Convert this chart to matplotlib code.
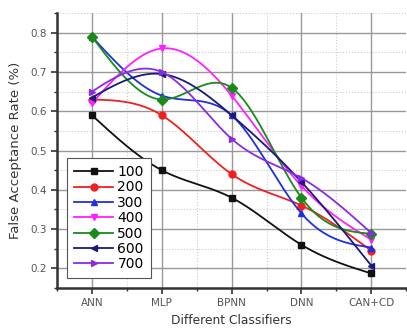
import numpy as np
import matplotlib
matplotlib.use('Agg')
import matplotlib.pyplot as plt
from matplotlib.ticker import MultipleLocator

# categories and series values
classifiers = ['ANN', 'MLP', 'BPNN', 'DNN', 'CAN+CD']
labels = ['100', '200', '300', '400', '500', '600', '700']
far_100 = [0.59, 0.45, 0.38, 0.26, 0.187]
far_200 = [0.63, 0.59, 0.44, 0.36, 0.245]
far_300 = [0.79, 0.64, 0.59, 0.34, 0.253]
far_400 = [0.62, 0.76, 0.64, 0.41, 0.273]
far_500 = [0.79, 0.63, 0.66, 0.38, 0.288]
far_600 = [0.635, 0.695, 0.59, 0.42, 0.207]
far_700 = [0.65, 0.70, 0.53, 0.43, 0.29]

series = [far_100, far_200, far_300, far_400, far_500, far_600, far_700]
colors = ['#111111', '#f02020', '#2030e0', '#ff20ff', '#1a8a1a', '#1a1a7a', '#8a2be2']
markers = ['s', 'o', '^', 'v', 'D', '<', '>']


def natural_spline(x, y, n=200):
    """Natural cubic spline through the points, for smooth line drawing."""
    x = np.asarray(x, float)
    y = np.asarray(y, float)
    k = len(x)
    h = np.diff(x)
    A = np.zeros((k, k))
    r = np.zeros(k)
    A[0, 0] = A[-1, -1] = 1
    for i in range(1, k - 1):
        A[i, i - 1] = h[i - 1]
        A[i, i] = 2 * (h[i - 1] + h[i])
        A[i, i + 1] = h[i]
        r[i] = 6 * ((y[i + 1] - y[i]) / h[i] - (y[i] - y[i - 1]) / h[i - 1])
    M = np.linalg.solve(A, r)
    xs = np.linspace(x[0], x[-1], n)
    idx = np.clip(np.searchsorted(x, xs) - 1, 0, k - 2)
    x0, x1 = x[idx], x[idx + 1]
    hh = x1 - x0
    ys = (M[idx] * (x1 - xs) ** 3 / (6 * hh) + M[idx + 1] * (xs - x0) ** 3 / (6 * hh)
          + (y[idx] / hh - M[idx] * hh / 6) * (x1 - xs)
          + (y[idx + 1] / hh - M[idx + 1] * hh / 6) * (xs - x0))
    return xs, ys


fig = plt.figure(figsize=(4.07, 3.28), dpi=100)
ax = fig.add_axes([0.140, 0.122, 0.858, 0.838])

xpos = np.arange(1, len(classifiers) + 1)
for vals, c, m, lab in zip(series, colors, markers, labels):
    xs, ys = natural_spline(xpos, vals)
    ax.plot(xs, ys, color=c, linewidth=1.3)
    ax.plot(xpos, vals, linestyle='none', marker=m, color=c, markersize=5)
    ax.plot([], [], color=c, marker=m, markersize=5, linewidth=1.3, label=lab)

ax.set_xlim(0.5, 5.5)
ax.set_ylim(0.15, 0.85)
ax.set_xticks(xpos)
ax.set_xticklabels(classifiers)
ax.xaxis.set_minor_locator(MultipleLocator(0.5))
ax.yaxis.set_major_locator(MultipleLocator(0.1))
ax.yaxis.set_minor_locator(MultipleLocator(0.05))
ax.grid(True, which='major', color='#999999', linewidth=1.0)
ax.grid(True, which='minor', color='#cccccc', linestyle=':', linewidth=0.8)
ax.set_axisbelow(True)

for s in ['top', 'right']:
    ax.spines[s].set_visible(False)
for s in ['left', 'bottom']:
    ax.spines[s].set_linewidth(1.8)
    ax.spines[s].set_color('#333333')

ax.tick_params(which='major', direction='out', length=4, width=1.2, labelsize=7.5,
               labelcolor='#555555', color='#333333')
ax.tick_params(which='minor', direction='out', length=2.5, width=1.0, color='#333333')

ax.set_xlabel('Different Classifiers', fontsize=8.8, color='#333333', labelpad=4)
ax.set_ylabel('False Acceptance Rate (%)', fontsize=9.5, color='#333333', labelpad=6)

leg = ax.legend(loc='lower left', fontsize=10, handlelength=2.8, labelspacing=0.1,
                borderpad=0.5, handletextpad=0.3, fancybox=False, framealpha=1,
                edgecolor='#555555', bbox_to_anchor=(0.01, 0.01))
leg.get_frame().set_linewidth(0.8)

fig.savefig('out.png', dpi=100)
